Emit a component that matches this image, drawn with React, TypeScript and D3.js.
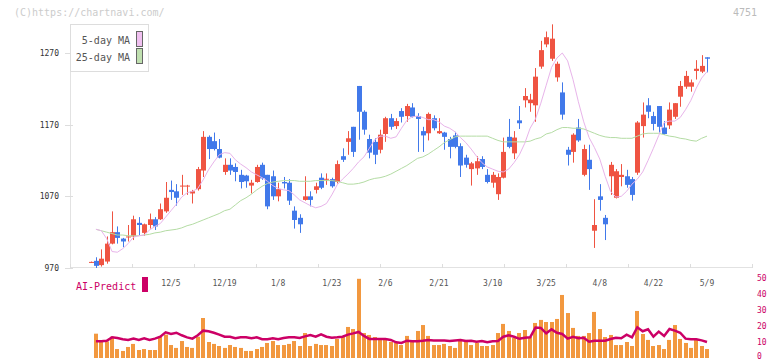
import React, { useRef, useEffect } from 'react';
import * as d3 from 'd3';

// candles (first one has no volume / MA / prediction)
const opens = [978, 980, 974, 979, 1004, 1020, 1011, 1013, 1014, 1033,
  1019, 1030, 1038, 1038, 1049, 1079, 1077, 1084, 1084, 1074,
  1080, 1106, 1153, 1147, 1136, 1104, 1114, 1111, 1100, 1099,
  1085, 1090, 1114, 1100, 1098, 1070, 1090, 1089, 1050, 1040,
  1065, 1070, 1079, 1096, 1094, 1094, 1090, 1126, 1146, 1167,
  1224, 1188, 1150, 1146, 1135, 1157, 1179, 1168, 1189, 1182,
  1194, 1182, 1161, 1158, 1179, 1158, 1159, 1150, 1155, 1140,
  1124, 1108, 1109, 1122, 1100, 1089, 1073, 1096, 1153, 1130,
  1176, 1204, 1200, 1197, 1251, 1282, 1262, 1236, 1215, 1135,
  1132, 1166, 1100, 1121, 1022, 1070, 1040, 1098, 1068, 1097,
  1098, 1094, 1103, 1168, 1197, 1182, 1196, 1166, 1169, 1181,
  1209, 1223, 1223, 1245, 1244, 1264];

const highs = [979, 985, 996, 1014, 1049, 1028, 1012, 1030, 1043, 1041,
  1032, 1046, 1041, 1060, 1090, 1092, 1087, 1100, 1086, 1079,
  1111, 1161, 1155, 1159, 1150, 1123, 1123, 1116, 1107, 1100,
  1093, 1114, 1117, 1100, 1106, 1089, 1097, 1094, 1056, 1045,
  1098, 1077, 1089, 1102, 1102, 1096, 1120, 1137, 1161, 1167,
  1224, 1190, 1156, 1151, 1163, 1181, 1185, 1179, 1193, 1199,
  1200, 1186, 1167, 1187, 1183, 1179, 1160, 1153, 1160, 1144,
  1128, 1118, 1126, 1126, 1108, 1104, 1102, 1152, 1178, 1161,
  1196, 1221, 1213, 1249, 1287, 1300, 1310, 1258, 1229, 1139,
  1158, 1178, 1142, 1142, 1066, 1087, 1044, 1118, 1108, 1115,
  1107, 1097, 1175, 1201, 1207, 1188, 1196, 1175, 1201, 1200,
  1231, 1245, 1233, 1260, 1267, 1264];

const lows = [977, 970, 972, 976, 1003, 1004, 999, 1007, 1009, 1016,
  1015, 1025, 1023, 1037, 1047, 1065, 1057, 1072, 1072, 1060,
  1078, 1097, 1122, 1134, 1123, 1100, 1100, 1091, 1081, 1082,
  1074, 1089, 1093, 1052, 1065, 1063, 1081, 1058, 1025, 1019,
  1064, 1056, 1074, 1080, 1086, 1082, 1088, 1118, 1128, 1125,
  1149, 1156, 1123, 1115, 1130, 1146, 1163, 1164, 1173, 1174,
  1180, 1132, 1132, 1148, 1162, 1157, 1135, 1123, 1137, 1097,
  1110, 1085, 1100, 1108, 1088, 1082, 1065, 1095, 1137, 1122,
  1164, 1194, 1188, 1174, 1248, 1278, 1259, 1230, 1177, 1113,
  1117, 1146, 1098, 1079, 998, 1050, 1009, 1072, 1067, 1084,
  1082, 1064, 1100, 1152, 1179, 1162, 1159, 1156, 1164, 1178,
  1195, 1220, 1216, 1233, 1242, 1243];

const closes = [978.5, 973, 983, 1004, 1020, 1012, 1007, 1014, 1038, 1030,
  1031, 1038, 1028, 1052, 1068, 1076, 1068, 1085, 1085, 1077,
  1108, 1153, 1136, 1136, 1124, 1114, 1106, 1104, 1090, 1091,
  1089, 1111, 1095, 1056, 1070, 1080, 1088, 1064, 1037, 1031,
  1070, 1065, 1084, 1082, 1094.5, 1084, 1115, 1121, 1151, 1132,
  1188, 1163, 1131, 1128, 1156, 1179, 1167, 1175, 1181, 1196,
  1181, 1178, 1155, 1185, 1165, 1161, 1153, 1139, 1139, 1113,
  1114, 1116, 1119, 1111, 1090, 1100, 1097, 1132, 1139, 1152,
  1172, 1210, 1205, 1237, 1274, 1292, 1290, 1255, 1184, 1128,
  1156, 1148, 1136, 1108, 1030, 1065, 1031, 1114, 1105, 1100,
  1086, 1072, 1173, 1184, 1188, 1171, 1167, 1157, 1191, 1200,
  1224, 1238, 1229, 1248, 1252, 1262];

// from the 2nd candle on
const ma5 = [1024, 1022, 1011, 993, 992, 997, 1004, 1013, 1015, 1016,
  1023, 1028, 1032, 1041, 1050, 1059, 1069, 1075, 1077, 1081,
  1093, 1107, 1118, 1128, 1131, 1130, 1121, 1115, 1110, 1104,
  1100, 1096, 1091, 1085, 1081, 1079, 1078, 1072, 1065, 1061,
  1057, 1054, 1056, 1060, 1072, 1086, 1094, 1101, 1109, 1118,
  1125, 1137, 1149, 1154, 1154, 1151, 1153, 1165, 1176, 1181,
  1182, 1180, 1177, 1177, 1174, 1168, 1165, 1160, 1152, 1145,
  1136, 1126, 1117, 1111, 1108, 1105, 1104, 1108, 1117, 1128,
  1144, 1165, 1178, 1200, 1225, 1250, 1263, 1270, 1259, 1233,
  1202, 1174, 1152, 1138, 1122, 1098, 1077, 1069, 1070, 1077,
  1087, 1094, 1104, 1120, 1137, 1155, 1173, 1175, 1175, 1180,
  1191, 1204, 1221, 1235, 1244];

const ma25 = [1024, 1022, 1020, 1018, 1016, 1016, 1015, 1015, 1015, 1016,
  1017, 1019, 1020, 1022, 1023, 1024, 1026, 1029, 1031, 1034,
  1037, 1040, 1043, 1046, 1050, 1052, 1058, 1064, 1068, 1073,
  1079, 1084, 1088, 1090, 1091, 1092, 1092, 1092, 1091, 1091,
  1091, 1092, 1092, 1092, 1092, 1091, 1089, 1087, 1087, 1088,
  1090, 1093, 1095, 1096, 1098, 1101, 1105, 1109, 1113, 1118,
  1123, 1125, 1129, 1134, 1139, 1145, 1149, 1153, 1154, 1154,
  1154, 1154, 1154, 1154, 1151, 1148, 1146, 1146, 1146, 1146,
  1146, 1147, 1150, 1152, 1157, 1159, 1163, 1166, 1166, 1165,
  1165, 1164, 1161, 1158, 1155, 1153, 1152, 1152, 1151, 1151,
  1151, 1154, 1157, 1158, 1158, 1158, 1156, 1154, 1153, 1151,
  1150, 1148, 1147, 1151, 1154];

const volumes = [15.2, 10.4, 10.4, 13.3, 5.6, 4.4, 6.9, 8.8, 5, 5.6,
  5, 5, 13.3, 14.6, 8.1, 6.3, 10.6, 6.9, 6.3, 13.3,
  25, 10, 8.8, 7.5, 6.3, 8.1, 6.9, 6.3, 4.4, 4.4,
  5.6, 6.9, 9.4, 10.6, 8.1, 8.1, 8.8, 10.6, 7.5, 15.6,
  7.5, 8.8, 8.1, 8.1, 7.5, 11.9, 13.1, 19.4, 18.1, 49.5,
  15.6, 14.4, 13.1, 11.9, 11.9, 10, 9.4, 8.1, 13.8, 10.6,
  16.9, 20.6, 13.8, 8.1, 8.1, 8.8, 7.5, 6.3, 11.9, 11.3,
  8.1, 9.4, 7.5, 7.5, 8.1, 15.6, 21.3, 16.9, 12.5, 15.6,
  17.5, 13.1, 21.9, 23.8, 22.5, 22.5, 24.4, 39.4, 28.1, 18.8,
  13.8, 13.8, 15.6, 28.8, 18.1, 13.1, 14.4, 8.1, 8.1, 10,
  7.5, 29.4, 15, 11.3, 7.5, 8.1, 5.6, 11.3, 20.6, 11.9,
  9.4, 6.3, 11.3, 7.5, 5.6];

const aiPredict = [10.4, 10.4, 10.8, 12.9, 12.5, 11.7, 11.3, 12.1, 11.3, 12.3,
  11.3, 12.1, 13.3, 16, 15, 15.8, 14.2, 12.9, 12.1, 14.2,
  17.1, 16.7, 15.8, 14.6, 13.3, 13.3, 12.3, 12.9, 12.9, 12.3,
  12.9, 11.7, 11.7, 12.3, 11.7, 12.5, 12.9, 12.9, 12.5, 13.5,
  14.4, 13.3, 14.8, 13.3, 12.7, 12.9, 13.3, 14.6, 15.4, 16.3,
  13.8, 11.9, 11.9, 11.9, 11.9, 11.3, 9.8, 9.4, 10.8, 10.4,
  10.4, 10.8, 11.3, 11, 11, 11, 10.6, 11, 11.3, 10.6,
  10.8, 10.2, 10.6, 9.8, 10.4, 10.6, 13.3, 14.2, 13.3, 12,
  12.7, 12.9, 19, 18.8, 15.4, 17.9, 15.8, 15, 12.1, 13.3,
  12.3, 12.7, 10.2, 10.8, 10.8, 10.8, 11.9, 12.7, 12.3, 14.6,
  12.9, 19.2, 16.7, 17.9, 13.3, 16.5, 13.8, 18.1, 17.1, 15.8,
  12.1, 11.7, 11.7, 11, 10];

const dateLabels = ['12/5', '12/19', '1/8', '1/23', '2/6', '2/21', '3/10', '3/25', '4/8', '4/22', '5/9'];
const dateIndex = [15, 25, 35, 45, 55, 65, 75, 85, 95, 105, 115];
const priceTicks = [970, 1070, 1170, 1270];
const volumeTicks = [0, 10, 20, 30, 40, 50];

const MONO = '"DejaVu Sans Mono", monospace';

const App = () => {
    const svgRef = useRef(null);

    useEffect(() => {
        const svg = d3.select(svgRef.current);
        svg.selectAll('*').remove();

        const x = d3.scaleLinear().domain([0, closes.length - 1]).range([90.6, 707]);
        const y = d3.scaleLinear().domain([970, 1270]).range([268, 53]);
        const yv = d3.scaleLinear().domain([0, 50]).range([358, 278]);
        const gx = d3.scaleLinear().domain([0, 11]).range([70.5, 752.5]);

        // watermark + code
        svg.append('text').attr('x', 14).attr('y', 16)
           .style('font-family', MONO).style('font-size', '10px')
           .attr('fill', '#cccccc').text('(C)https://chartnavi.com/');
        svg.append('text').attr('x', 757).attr('y', 16).attr('text-anchor', 'end')
           .style('font-family', MONO).style('font-size', '10px')
           .attr('fill', '#bbbbbb').text('4751');

        // axes
        svg.append('line').attr('x1', 70.5).attr('x2', 70.5).attr('y1', 24).attr('y2', 268)
           .attr('stroke', '#e2e2e2');
        svg.append('line').attr('x1', 70.5).attr('x2', 753).attr('y1', 267.5).attr('y2', 267.5)
           .attr('stroke', '#e2e2e2');

        svg.selectAll('.xtick').data(d3.range(12)).join('line')
           .attr('x1', d => gx(d)).attr('x2', d => gx(d))
           .attr('y1', 264).attr('y2', 268)
           .attr('stroke', '#dddddd');

        const yt = svg.selectAll('.ytick').data(priceTicks).join('g')
           .attr('transform', d => `translate(0, ${Math.round(y(d)) + 0.5})`);
        yt.append('line').attr('x1', 65).attr('x2', 73).attr('stroke', '#dddddd');
        yt.append('text').attr('x', 59).attr('dy', '0.35em').attr('text-anchor', 'end')
          .style('font-family', MONO).style('font-size', '8px').attr('fill', '#333')
          .text(d => d);

        // candles
        const candles = svg.append('g');
        const idx = d3.range(closes.length);
        candles.selectAll('.wick').data(idx).join('line')
           .attr('x1', i => Math.round(x(i)) + 0.5).attr('x2', i => Math.round(x(i)) + 0.5)
           .attr('y1', i => y(highs[i])).attr('y2', i => y(lows[i]))
           .attr('stroke', i => closes[i] >= opens[i] ? '#ef5442' : '#4179ea')
           .attr('stroke-width', 1);
        candles.selectAll('.body').data(idx).join('rect')
           .attr('x', i => Math.round(x(i)) - 2)
           .attr('width', 5)
           .attr('y', i => y(Math.max(opens[i], closes[i])))
           .attr('height', i => Math.max(1, Math.abs(y(opens[i]) - y(closes[i]))))
           .attr('fill', i => closes[i] >= opens[i] ? '#ef5442' : '#4179ea');

        // moving averages
        const maLine = d3.line().x((d, i) => x(i + 1)).y(d => y(d));
        svg.append('path').attr('d', maLine(ma25)).attr('fill', 'none')
           .attr('stroke', '#b4dca4').attr('stroke-width', 1);
        svg.append('path').attr('d', maLine(ma5)).attr('fill', 'none')
           .attr('stroke', '#e8b4ea').attr('stroke-width', 1);

        // legend
        const lg = svg.append('g');
        lg.append('rect').attr('x', 70.5).attr('y', 24.5).attr('width', 78).attr('height', 47)
          .attr('fill', '#fff').attr('stroke', '#dddddd');
        [['5-day MA', '#f0c0f0'], ['25-day MA', '#c0e0b0']].forEach(([label, color], k) => {
            lg.append('text').attr('x', 130).attr('y', 43.5 + k * 17).attr('text-anchor', 'end')
              .style('font-family', MONO).style('font-size', '10px').attr('fill', '#555')
              .text(label);
            lg.append('rect').attr('x', 136.5).attr('y', 31.5 + k * 17).attr('width', 6).attr('height', 15)
              .attr('fill', color).attr('stroke', '#666');
        });

        // date labels
        svg.selectAll('.xlabel').data(dateLabels).join('text')
           .attr('x', (d, i) => x(dateIndex[i])).attr('y', 286)
           .attr('text-anchor', 'middle')
           .style('font-family', MONO).style('font-size', '8px').attr('fill', '#555')
           .text(d => d);

        // AI-Predict pane
        svg.append('text').attr('x', 76).attr('y', 290)
           .style('font-family', MONO).style('font-size', '10px').attr('fill', '#cc0066')
           .text('AI-Predict');
        svg.append('rect').attr('x', 142).attr('y', 277).attr('width', 6).attr('height', 15)
           .attr('fill', '#cc0066');

        // bottom label nudged up so it stays inside the picture
        svg.selectAll('.vtick').data(volumeTicks).join('text')
           .attr('x', 757).attr('y', d => Math.min(yv(d), 356)).attr('dy', '0.35em')
           .style('font-family', MONO).style('font-size', '8px').attr('fill', '#cc0066')
           .text(d => d);

        svg.selectAll('.vol').data(volumes).join('rect')
           .attr('x', (d, i) => Math.round(x(i + 1)) - 2)
           .attr('width', 4)
           .attr('y', d => yv(d))
           .attr('height', d => yv(0) - yv(d))
           .attr('fill', '#f2983f');

        const aiLine = d3.line().x((d, i) => x(i + 1)).y(d => yv(d));
        svg.append('path').attr('d', aiLine(aiPredict)).attr('fill', 'none')
           .attr('stroke', '#cc0066').attr('stroke-width', 2.5);
    }, []);

    return <svg ref={svgRef} width={772} height={361}
                style={{ position: 'absolute', left: 0, top: 0, background: '#fff' }}></svg>;
};

export default App;
